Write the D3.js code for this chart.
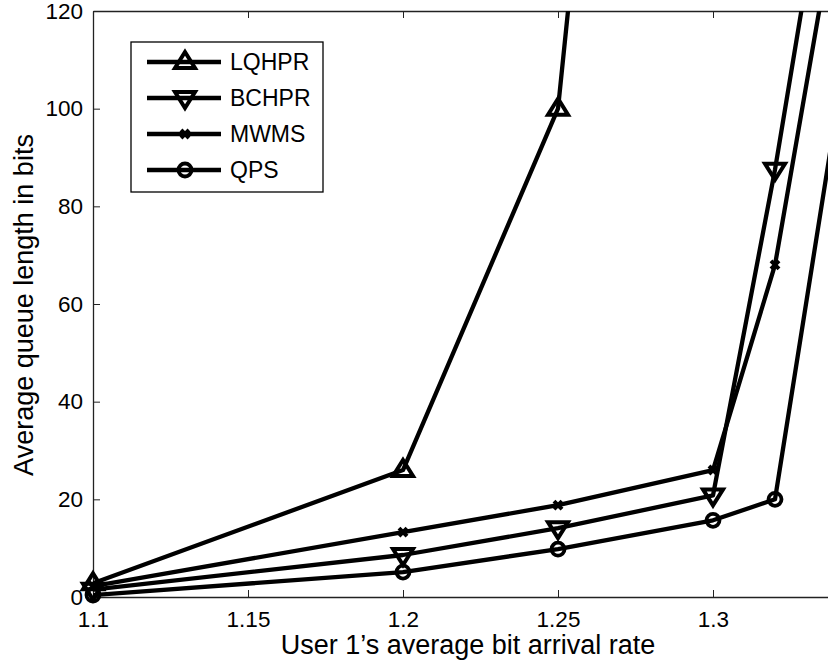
<!DOCTYPE html>
<html lang="en">
<head>
<meta charset="utf-8">
<title>Average queue length</title>
<script src="https://cdn.jsdelivr.net/npm/d3@7"></script>
<style>
  body { margin: 0; background: #fff; }
  svg { display: block; font-family: "Liberation Sans", Arial, Helvetica, sans-serif; }
</style>
</head>
<body>
<script>
// data
var xVals   = [1.1, 1.2, 1.25, 1.3, 1.32, 1.34];
var lqhpr   = [2.8, 26, 100, 410];          // only first four x values
var bchpr   = [1.5, 8.6, 14.1, 20.8, 87.5, 164];
var mwms    = [2.2, 13.3, 18.8, 26, 68, 141];
var qps     = [0.4, 5.1, 9.8, 15.7, 20, 100];
var xTicks  = [1.1, 1.15, 1.2, 1.25, 1.3];
var yTicks  = [0, 20, 40, 60, 80, 100, 120];
var names   = ["LQHPR", "BCHPR", "MWMS", "QPS"];
var markers = ["up", "down", "x", "circle"];

var w = 828, h = 663;
var padLeft = 93, padTop = 11, padBottom = 597;

var series = [lqhpr, bchpr, mwms, qps].map(function(vals, i) {
  return {
    name: names[i],
    marker: markers[i],
    points: vals.map(function(v, j) { return { x: xVals[j], y: v }; })
  };
});

// the figure is cut at the right, so the x range runs past the picture
var xScale = d3.scaleLinear().domain([1.1, 1.35]).range([padLeft, padLeft + 775]);
var yScale = d3.scaleLinear().domain([0, 120]).range([padBottom, padTop]);

var svg = d3.select("body").append("svg")
  .attr("width", w)
  .attr("height", h);

svg.append("defs").append("clipPath").attr("id", "plot")
  .append("rect")
  .attr("x", padLeft).attr("y", padTop)
  .attr("width", w - padLeft + 50).attr("height", padBottom - padTop);

// axes
var xAxis = d3.axisBottom(xScale).tickValues(xTicks).tickSizeInner(-7).tickSizeOuter(0)
  .tickPadding(14).tickFormat(d3.format("~g"));
var yAxis = d3.axisLeft(yScale).tickValues(yTicks).tickSizeInner(-7).tickSizeOuter(0)
  .tickPadding(10);
var xTop = d3.axisTop(xScale).tickValues(xTicks).tickSizeInner(-7).tickSizeOuter(0).tickFormat("");

svg.append("g").attr("class", "axis")
  .attr("transform", "translate(0," + padBottom + ")")
  .call(xAxis);
svg.append("g").attr("class", "axis")
  .attr("transform", "translate(" + padLeft + ",0)")
  .call(yAxis);
svg.append("g").attr("class", "axis top")
  .attr("transform", "translate(0," + padTop + ")")
  .call(xTop);

svg.selectAll(".axis path").attr("stroke", "#222").attr("stroke-width", 1.3);
svg.selectAll(".axis line").attr("stroke", "#222");
svg.selectAll(".axis text").attr("font-size", 22.5).attr("fill", "#000")
  .attr("font-family", "Liberation Sans, Arial, sans-serif");

// axis titles
svg.append("text")
  .attr("x", 468).attr("y", 654)
  .attr("text-anchor", "middle")
  .attr("font-size", 27)
  .text("User 1\u2019s average bit arrival rate");

svg.append("text")
  .attr("transform", "translate(33,305) rotate(-90)")
  .attr("text-anchor", "middle")
  .attr("font-size", 27)
  .text("Average queue length in bits");

// lines
var line = d3.line()
  .x(function(d) { return xScale(d.x); })
  .y(function(d) { return yScale(d.y); });

svg.append("g").attr("clip-path", "url(#plot)")
  .selectAll("path")
  .data(series)
  .enter()
  .append("path")
  .attr("d", function(d) { return line(d.points); })
  .attr("fill", "none")
  .attr("stroke", "#000")
  .attr("stroke-width", 4.3)
  .attr("stroke-linejoin", "round");

// marker drawing
function drawMarker(g, type, cx, cy) {
  if (type === "up") {
    g.append("path")
      .attr("d", "M" + cx + "," + (cy - 10) + "L" + (cx + 10) + "," + (cy + 6) + "L" + (cx - 10) + "," + (cy + 6) + "Z")
      .attr("fill", "none").attr("stroke", "#000").attr("stroke-width", 4)
      .attr("stroke-linejoin", "miter");
  } else if (type === "down") {
    g.append("path")
      .attr("d", "M" + cx + "," + (cy + 10) + "L" + (cx + 10) + "," + (cy - 6) + "L" + (cx - 10) + "," + (cy - 6) + "Z")
      .attr("fill", "none").attr("stroke", "#000").attr("stroke-width", 4)
      .attr("stroke-linejoin", "miter");
  } else if (type === "x") {
    g.append("path")
      .attr("d", "M" + (cx - 4) + "," + (cy - 4) + "L" + (cx + 4) + "," + (cy + 4) +
                 "M" + (cx + 4) + "," + (cy - 4) + "L" + (cx - 4) + "," + (cy + 4))
      .attr("stroke", "#000").attr("stroke-width", 4);
  } else {
    g.append("circle")
      .attr("cx", cx).attr("cy", cy).attr("r", 6.5)
      .attr("fill", "none").attr("stroke", "#000").attr("stroke-width", 3.8);
  }
}

var markG = svg.append("g");
series.forEach(function(s) {
  s.points.forEach(function(p) {
    if (p.y <= 120) drawMarker(markG, s.marker, xScale(p.x), yScale(p.y));
  });
});

// legend
var lg = svg.append("g");
lg.append("rect")
  .attr("x", 131).attr("y", 42)
  .attr("width", 192).attr("height", 150)
  .attr("fill", "#fff").attr("stroke", "#000").attr("stroke-width", 1.3);

series.forEach(function(s, i) {
  var yy = 62 + i * 36;
  lg.append("line")
    .attr("x1", 147).attr("x2", 221)
    .attr("y1", yy).attr("y2", yy)
    .attr("stroke", "#000").attr("stroke-width", 4.3);
  drawMarker(lg, s.marker, 185, yy);
  lg.append("text")
    .attr("x", 230).attr("y", yy + 8)
    .attr("font-size", 23)
    .text(s.name);
});
</script>
</body>
</html>
